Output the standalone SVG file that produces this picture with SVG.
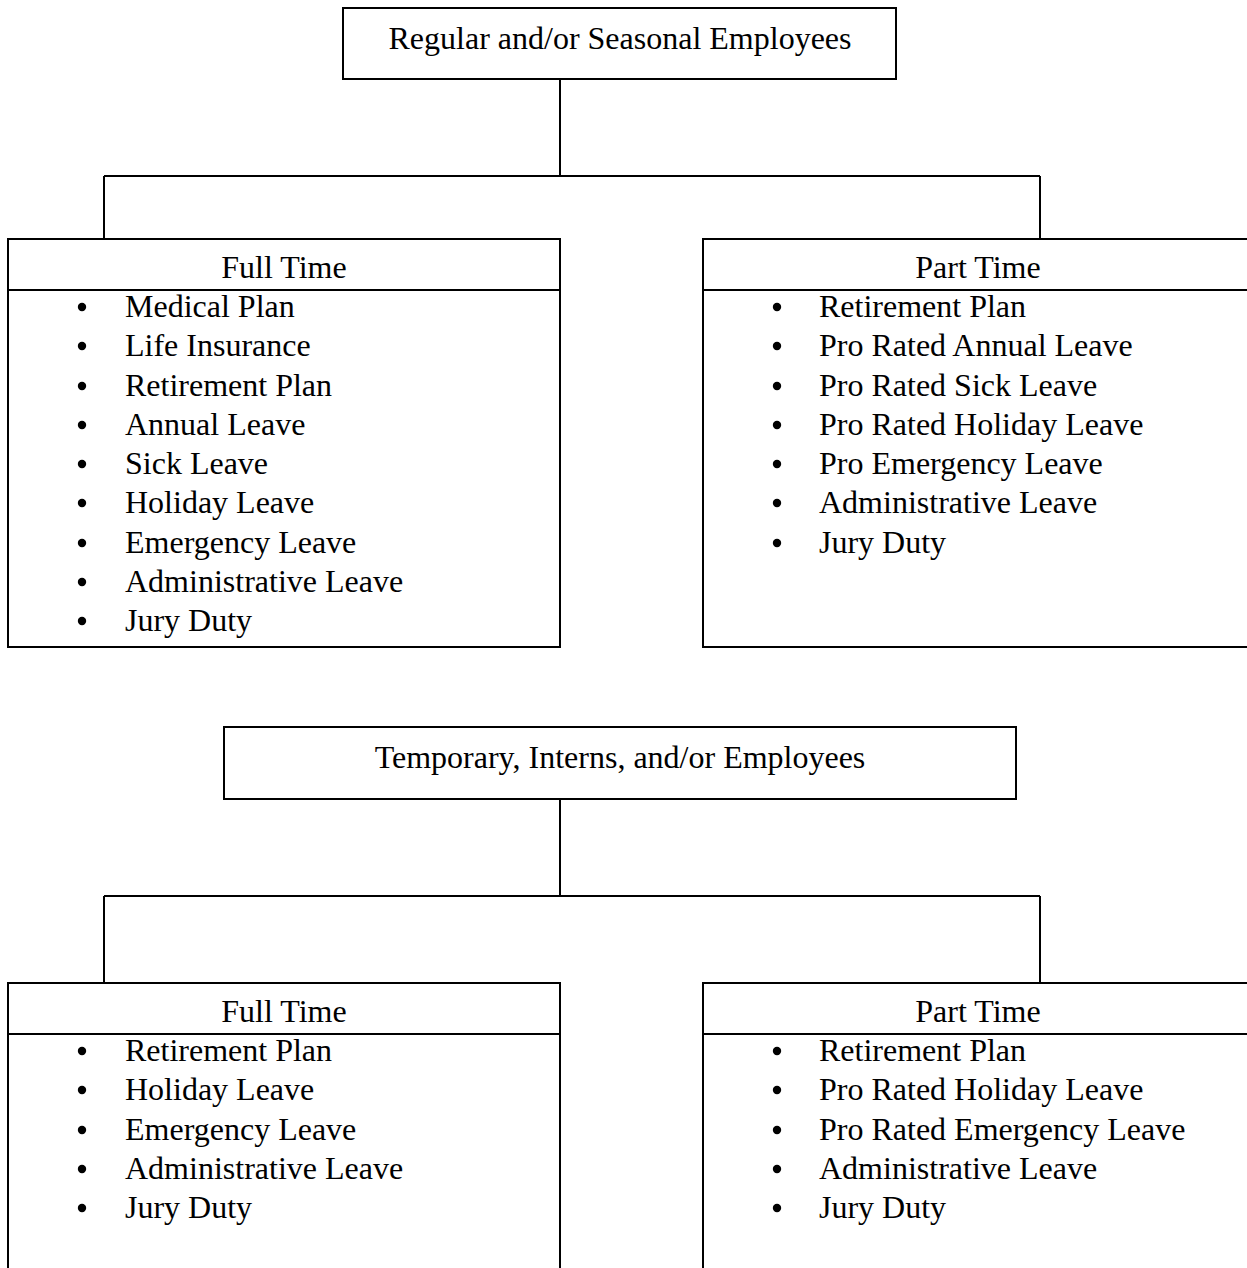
<svg xmlns="http://www.w3.org/2000/svg" width="1247" height="1268" viewBox="0 0 1247 1268">
<style>
.box{fill:#fff;stroke:#000;stroke-width:2}
.ln{fill:none;stroke:#000;stroke-width:2}
text{font-family:"Liberation Serif","Times New Roman",serif;font-size:32px;fill:#000}
.c{text-anchor:middle}
.b{fill:#000}
</style>
<rect width="1247" height="1268" fill="#fff"/>
<g id="connectors">
<path class="ln" d="M560 79V176M104 176H1040M104 176V239M1040 176V239"/>
<path class="ln" d="M560 799V896M104 896H1040M104 896V983M1040 896V983"/>
</g>
<g id="regular">
<rect class="box" x="343" y="8" width="553" height="71"/>
<text class="c" x="620" y="49">Regular and/or Seasonal Employees</text>
</g>
<g id="reg-full">
<rect class="box" x="8" y="239" width="552" height="408"/>
<path class="ln" d="M8 290H560"/>
<text class="c" x="284" y="278">Full Time</text>
<g class="b"><circle cx="82" cy="307" r="4.2"/><circle cx="82" cy="346" r="4.2"/><circle cx="82" cy="386" r="4.2"/><circle cx="82" cy="425" r="4.2"/><circle cx="82" cy="464" r="4.2"/><circle cx="82" cy="503" r="4.2"/><circle cx="82" cy="543" r="4.2"/><circle cx="82" cy="582" r="4.2"/><circle cx="82" cy="621" r="4.2"/></g>
<text x="125" y="317">Medical Plan</text>
<text x="125" y="356">Life Insurance</text>
<text x="125" y="396">Retirement Plan</text>
<text x="125" y="435">Annual Leave</text>
<text x="125" y="474">Sick Leave</text>
<text x="125" y="513">Holiday Leave</text>
<text x="125" y="553">Emergency Leave</text>
<text x="125" y="592">Administrative Leave</text>
<text x="125" y="631">Jury Duty</text>
</g>
<g id="reg-part">
<rect class="box" x="703" y="239" width="552" height="408"/>
<path class="ln" d="M703 290H1255"/>
<text class="c" x="978" y="278">Part Time</text>
<g class="b"><circle cx="777" cy="307" r="4.2"/><circle cx="777" cy="346" r="4.2"/><circle cx="777" cy="386" r="4.2"/><circle cx="777" cy="425" r="4.2"/><circle cx="777" cy="464" r="4.2"/><circle cx="777" cy="503" r="4.2"/><circle cx="777" cy="543" r="4.2"/></g>
<text x="819" y="317">Retirement Plan</text>
<text x="819" y="356">Pro Rated Annual Leave</text>
<text x="819" y="396">Pro Rated Sick Leave</text>
<text x="819" y="435">Pro Rated Holiday Leave</text>
<text x="819" y="474">Pro Emergency Leave</text>
<text x="819" y="513">Administrative Leave</text>
<text x="819" y="553">Jury Duty</text>
</g>
<g id="temporary">
<rect class="box" x="224" y="727" width="792" height="72"/>
<text class="c" x="620" y="768">Temporary, Interns, and/or Employees</text>
</g>
<g id="temp-full">
<rect class="box" x="8" y="983" width="552" height="300"/>
<path class="ln" d="M8 1034H560"/>
<text class="c" x="284" y="1022">Full Time</text>
<g class="b"><circle cx="82" cy="1051" r="4.2"/><circle cx="82" cy="1090" r="4.2"/><circle cx="82" cy="1130" r="4.2"/><circle cx="82" cy="1169" r="4.2"/><circle cx="82" cy="1208" r="4.2"/></g>
<text x="125" y="1061">Retirement Plan</text>
<text x="125" y="1100">Holiday Leave</text>
<text x="125" y="1140">Emergency Leave</text>
<text x="125" y="1179">Administrative Leave</text>
<text x="125" y="1218">Jury Duty</text>
</g>
<g id="temp-part">
<rect class="box" x="703" y="983" width="552" height="300"/>
<path class="ln" d="M703 1034H1255"/>
<text class="c" x="978" y="1022">Part Time</text>
<g class="b"><circle cx="777" cy="1051" r="4.2"/><circle cx="777" cy="1090" r="4.2"/><circle cx="777" cy="1130" r="4.2"/><circle cx="777" cy="1169" r="4.2"/><circle cx="777" cy="1208" r="4.2"/></g>
<text x="819" y="1061">Retirement Plan</text>
<text x="819" y="1100">Pro Rated Holiday Leave</text>
<text x="819" y="1140">Pro Rated Emergency Leave</text>
<text x="819" y="1179">Administrative Leave</text>
<text x="819" y="1218">Jury Duty</text>
</g>
</svg>
